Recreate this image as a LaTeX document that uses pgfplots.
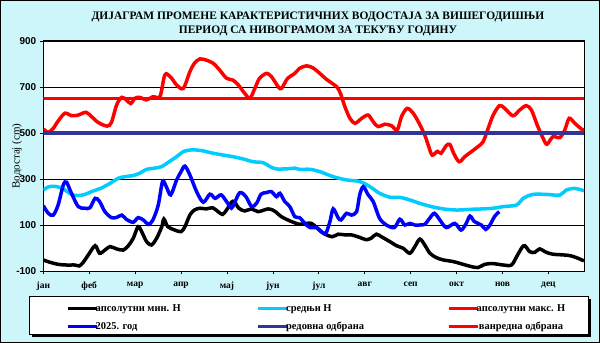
\documentclass[border=0pt]{standalone}
\usepackage{fontspec}
\setmainfont{Liberation Serif}
\newfontfamily\arialfont{Liberation Sans}
\usepackage{pgfplots}
\pgfplotsset{compat=1.18}
\definecolor{bgcyan}{RGB}{204,246,250}
\definecolor{meancyan}{RGB}{0,204,255}
\definecolor{maxred}{RGB}{255,0,0}
\definecolor{curblue}{RGB}{0,0,255}
\definecolor{regnavy}{RGB}{51,51,153}

\begin{document}
\begin{tikzpicture}
\fill[bgcyan] (0bp,0bp) rectangle (600bp,343bp);
\draw[black, line width=1bp] (0.5bp,0.5bp) rectangle (599.5bp,342.5bp);
% legend frame with shadow
\fill[black] (32bp,6bp) rectangle (591bp,44bp);
\filldraw[fill=white, draw=black, line width=0.8bp] (29bp,9bp) rectangle (588bp,47bp);
\begin{axis}[
    at={(43.3bp,72bp)}, anchor=south west,
    scale only axis, width=540.7bp, height=230bp,
    xmin=0, xmax=365, ymin=-100, ymax=900,
    axis background/.style={fill=white},
    axis line style={black, line width=1bp},
    xtick={0,31,62,93,124,155,186,217,248,279,310,341},
    xticklabels={јан,феб,мар,апр,мај,јун,јул,авг,сеп,окт,нов,дец},
    ytick={-100,100,300,500,700,900},
    yticklabels={-100,100,300,500,700,900},
    xtick pos=bottom, ytick pos=left,
    tick align=outside, major tick length=3.5bp,
    tick style={black, line width=0.8bp},
    x tick label style={font=\bfseries\fontsize{9.5}{10}\selectfont, yshift=-4bp},
    y tick label style={font=\arialfont\bfseries\fontsize{10}{10}\selectfont},
    ymajorgrids, grid style={black, line width=0.8bp},
    ylabel={Водостај (cm)},
    ylabel style={font=\fontsize{11}{12}\selectfont, at={(axis description cs:-0.0486,0.5)}, anchor=center},
    title={ДИЈАГРАМ ПРОМЕНЕ КАРАКТЕРИСТИЧНИХ ВОДОСТАЈА ЗА ВИШЕГОДИШЊИ\\ПЕРИОД СА НИВОГРАМОМ ЗА ТЕКУЋУ ГОДИНУ},
    title style={font=\bfseries\fontsize{11.5}{14}\selectfont, align=center, at={(axis description cs:0.508,1.05)}, anchor=center},
    every axis plot/.append style={line width=3.5bp, mark=none},
    legend image code/.code={\draw[#1, line width=3.5bp] (0bp,0bp) -- (29bp,0bp);},
    legend columns=3,
    legend style={draw=none, fill=none, at={(axis description cs:0.0364,-0.203)}, anchor=west,
        font=\bfseries\fontsize{10.5}{11}\selectfont, row sep=9bp,
        nodes={inner xsep=0pt, inner ysep=0pt, text height=7bp, text depth=2bp},
        /tikz/every odd column/.append style={column sep=0bp},
        /tikz/every even column/.append style={column sep=0bp}},
]
\addplot[black, smooth] coordinates {
(0,-52) (4.5,-62) (10,-71) (15.7,-74) (21.4,-74) (24.3,-78) (27,-62) (30.4,-30) (35,10) (38,-23) (41.6,-9) (45,6) (49.5,-4) (54,-9) (57.4,10) (60.7,42) (64,93) (66.4,71) (69.7,28) (73,13) (76.5,42) (80,93) (81.4,126) (84,93) (88.8,78) (93,71) (95.6,93) (99,144) (102,165) (105.7,173) (110,170) (114.3,175) (118,158) (121,146) (123.7,165) (127,199) (129,201) (132,173) (136,161) (140.6,170) (145,158) (151.8,170) (156,161) (160.8,136) (166.4,118) (173,103) (177.7,107) (181,107) (184.5,89) (189,64) (195,49) (199,60) (203.6,57) (208,57) (213.6,46) (218,36) (221.4,43) (224.9,60) (229,46) (233.9,28) (238.4,10) (242.9,-1) (247.4,-23) (250.8,6) (254.2,39) (257.5,13) (261,-23) (265.4,-42) (270,-52) (276.7,-59) (283.4,-71) (289,-81) (293.5,-85) (298,-71) (303.7,-68) (310.5,-74) (316,-74) (319.5,-38) (323,1) (325,10) (328.4,-16) (331.8,-19) (335,-4) (339.6,-19) (344,-27) (350.8,-30) (355.4,-33) (359.9,-42) (365,-56)
};
\addlegendentry{\hspace*{-3bp}\makebox[161bp][l]{апсолутни мин. Н}}
\addplot[meancyan, smooth] coordinates {
(0,252) (4,267) (9,267) (13.5,257) (19,233) (23.6,228) (28,233) (33.7,248) (39,260) (45,281) (50.6,303) (55,310) (60.7,315) (65,325) (69.7,342) (75,347) (80,354) (84,371) (90,397) (94.5,419) (99,426) (103.5,426) (108,422) (114.7,412) (121.5,404) (128,397) (135,387) (141.7,375) (148.4,371) (153,354) (157,344) (164,344) (169.8,347) (173,342) (180,342) (186.7,332) (195.7,310) (204.6,296) (213.6,289) (220.4,267) (227,238) (233.9,221) (240.7,220) (247.4,209) (254.2,194) (262,180) (270,170) (279,165) (288,168) (296.9,170) (303.7,173) (310.5,180) (319.5,187) (324,216) (330.6,233) (339.6,233) (348.6,230) (353,252) (358.8,259) (365,249)
};
\addlegendentry{\hspace*{-3bp}\makebox[161bp][l]{средњи Н}}
\addplot[maxred, smooth] coordinates {
(0,517) (3.4,503) (6.7,520) (10,552) (14.6,586) (19,575) (23.6,578) (28.8,590) (32.6,571) (37,546) (43,530) (46,546) (49.5,622) (52.9,655) (56,644) (59,628) (61.9,651) (65,655) (69.7,644) (74,658) (78.7,658) (81.4,738) (83,758) (86.6,738) (90,709) (94.5,694) (99,767) (102,803) (105.7,822) (110,817) (114.7,803) (119,774) (123.7,738) (128,730) (131.6,709) (136,672) (139.5,651) (142.8,694) (146,738) (150.7,759) (154,745) (158.6,701) (160.8,694) (165,738) (169.8,759) (173,781) (177.7,792) (182,783) (186.7,759) (191,734) (198,701) (200.6,672) (203.6,614) (207,564) (210.4,542) (215,564) (219.3,578) (222.7,549) (226,528) (230.5,538) (235,532) (238.9,513) (241.8,571) (245.6,607) (249.7,586) (253.7,542) (257.5,491) (259.8,448) (262.5,404) (266,420) (268.5,412) (272,445) (274.5,450) (277,412) (280.7,375) (284.5,397) (289,419) (293.5,441) (296.9,462) (300.3,520) (303.7,578) (308,619) (311.5,607) (317,575) (321.6,600) (326,619) (329.5,600) (333.4,535) (337.4,477) (340,451) (344,484) (348.6,480) (352,513) (355,564) (358.8,542) (363.3,517) (365,513)
};
\addlegendentry{\hspace*{-3bp}апсолутни макс. Н}
\addplot[curblue, smooth] coordinates {
(0,184) (3.4,151) (6.7,143) (10,187) (13.5,274) (15.7,286) (19,238) (23.6,180) (28,173) (31.5,175) (35,216) (38,202) (41.6,158) (46,132) (49.5,133) (53,143) (56,125) (60.7,112) (64,132) (67.5,122) (71,103) (74,122) (77.6,187) (80.5,289) (83,267) (86,231) (90,296) (93,332) (95.6,356) (99,317) (103.5,245) (108,199) (112.5,234) (116,216) (120,231) (123.7,202) (127,173) (129,195) (132.7,241) (136.8,223) (140.6,180) (144,195) (147,234) (150.7,241) (154,245) (157.4,223) (159.7,238) (163,202) (166.4,180) (169.8,136) (173,132) (176.6,107) (180,89) (184.5,89) (187.8,71) (190.7,64) (193.5,115) (195.7,170) (199,132) (201,122) (204.7,151) (208,143) (211.5,158) (213.6,231) (216,267) (219.3,231) (222.7,202) (227,129) (231.6,100) (237,89) (240.7,125) (244,100) (247.4,107) (250.8,100) (254,100) (257.5,103) (260.8,129) (264,151) (267.7,122) (272,89) (277.8,107) (282,78) (285.5,107) (288,139) (291,115) (295.7,100) (298.7,81) (301.5,100) (304.8,139) (307.8,158)
};
\addlegendentry{\hspace*{-3bp}\makebox[161bp][l]{2025. год}}
\addplot[regnavy] coordinates {(0,500) (365,500)};
\addlegendentry{\hspace*{-3bp}\makebox[161bp][l]{редовна одбрана}}
\addplot[maxred] coordinates {(0,650) (365,650)};
\addlegendentry{\hspace*{-3bp}ванредна одбрана}
\end{axis}
\end{tikzpicture}
\end{document}
